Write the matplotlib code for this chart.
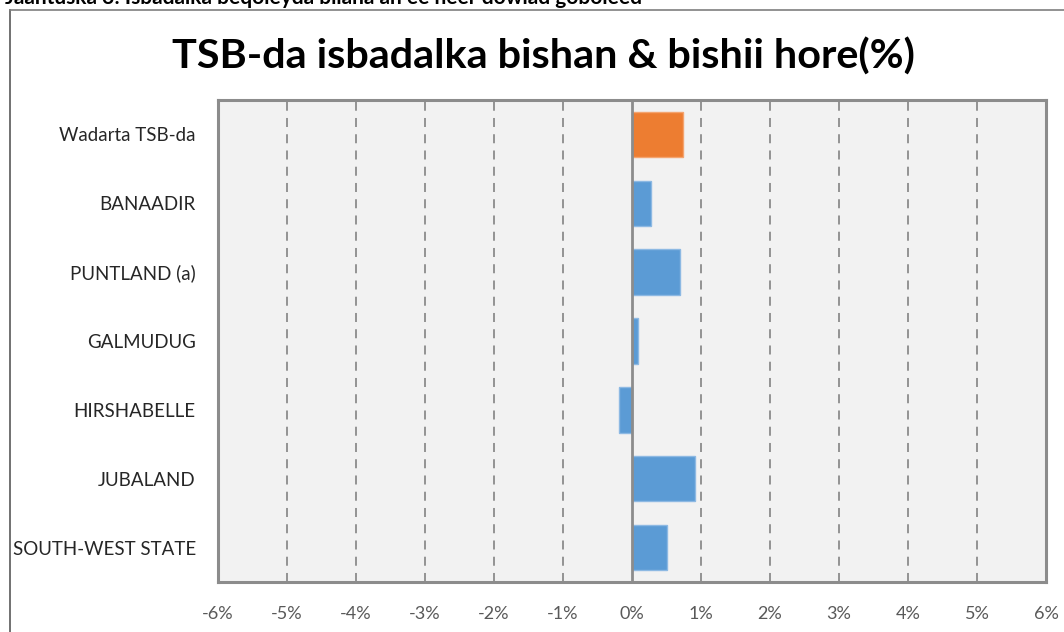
import matplotlib
matplotlib.use("Agg")
import matplotlib.pyplot as plt
from matplotlib.lines import Line2D
from matplotlib.ticker import FuncFormatter

# data
regions = ['Wadarta TSB-da', 'BANAADIR', 'PUNTLAND (a)', 'GALMUDUG',
           'HIRSHABELLE', 'JUBALAND', 'SOUTH-WEST STATE']
change_pct = [0.74, 0.27, 0.70, 0.08, -0.19, 0.91, 0.51]
x_ticks = [-6, -5, -4, -3, -2, -1, 0, 1, 2, 3, 4, 5, 6]

plt.rcParams['font.family'] = ['Lato', 'DejaVu Sans']

fig = plt.figure(figsize=(10.64, 6.32), dpi=100)
ax = fig.add_axes([218/1064, 1 - 582/632, (1046 - 218)/1064, (582 - 100)/632])
ax.set_facecolor('#F2F2F2')

colours = ['#ED7D31'] + ['#5B9BD5'] * (len(regions) - 1)
edges = ['#F4A46F'] + ['#8DB9E3'] * (len(regions) - 1)
ypos = list(range(len(regions)))
ax.barh(ypos, change_pct, height=0.66, color=colours, edgecolor=edges,
        linewidth=1, zorder=3)

ax.set_ylim(len(regions) - 0.5, -0.5)
ax.set_yticks(ypos)
ax.set_yticklabels(regions, fontsize=13.5, color='#262626')
ax.set_xlim(-6, 6)
ax.set_xticks(x_ticks)
ax.xaxis.set_major_formatter(FuncFormatter(lambda v, p: f'{int(v)}%'))
ax.tick_params(axis='x', length=0, pad=17, labelsize=13, labelcolor='#595959')
ax.tick_params(axis='y', length=0, pad=16)

for t in x_ticks:
    if t == 0:
        ax.axvline(t, color='#8C8C8C', lw=2, zorder=4)
    elif -6 < t < 6:
        ax.axvline(t, color='#8C8C8C', lw=1.3, ls=(0, (5, 4)), zorder=1)

for s in ax.spines.values():
    s.set_color('#8C8C8C')
    s.set_linewidth(2.2)

fig.text(543/1064, 1 - 57/632, 'TSB-da isbadalka bishan & bishii hore(%)',
         ha='center', va='center', fontsize=29.8, fontweight='bold')

# clipped caption at the very top
fig.text(5/1064, 1 - 4/632,
         'Jaantuska 3: Isbadalka beqoleyda bilaha an ee heer dowlad goboleed',
         ha='left', va='baseline', fontsize=15, fontweight='bold')

# outer chart frame
fig.add_artist(Line2D([10/1064, 10/1064], [0, 1 - 10/632],
                      transform=fig.transFigure, color='#595959', lw=1.2))
fig.add_artist(Line2D([10/1064, 1], [1 - 10/632, 1 - 10/632],
                      transform=fig.transFigure, color='#7F7F7F', lw=1.2))

fig.savefig('out.png', dpi=100)
